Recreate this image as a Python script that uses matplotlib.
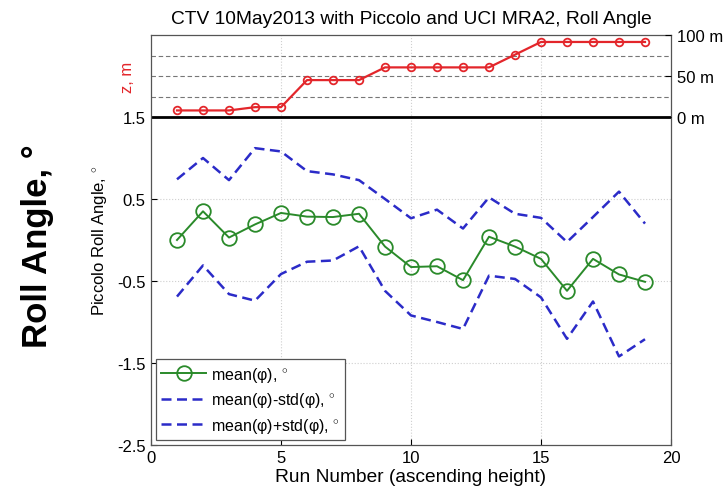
import matplotlib
matplotlib.use("Agg")
import matplotlib.pyplot as plt
import numpy as np

plt.rcParams['font.family'] = ['Liberation Sans', 'DejaVu Sans']
plt.rcParams['mathtext.fontset'] = 'custom'
plt.rcParams['mathtext.rm'] = 'Liberation Sans'

runs = list(range(1, 20))
mean_roll = [0.00, 0.35, 0.03, 0.19, 0.33, 0.285, 0.28, 0.32, -0.08, -0.33,
             -0.32, -0.49, 0.04, -0.08, -0.23, -0.62, -0.23, -0.42, -0.51]
upper_roll = [0.74, 1.00, 0.73, 1.12, 1.08, 0.84, 0.80, 0.73, 0.50, 0.265,
              0.37, 0.14, 0.52, 0.32, 0.27, -0.025, 0.28, 0.59, 0.20]
lower_roll = [-0.69, -0.31, -0.66, -0.74, -0.415, -0.265, -0.25, -0.077, -0.62, -0.92,
              -1.00, -1.085, -0.435, -0.475, -0.70, -1.205, -0.75, -1.42, -1.21]
height_m = [8, 8, 8, 12, 12, 45, 45, 45, 60.5, 60.5,
            60.5, 60.5, 60.5, 76, 91.5, 91.5, 91.5, 91.5, 91.5]

z_base = 1.5        # 0 m line in axis units
z_scale = 0.01      # axis units per metre
z_ref = [25, 50, 75]
z_ticks = [0, 50, 100]
y_ticks = [1.5, 0.5, -0.5, -1.5, -2.5]
x_ticks = [0, 5, 10, 15, 20]

fig = plt.figure(figsize=(7.28, 4.89), dpi=100)
ax = fig.add_axes([151/728, 1-446/489, 520/728, 410/489])

ax.set_xlim(0, 20)
ax.set_ylim(-2.5, 2.5)

# grid
for xv in [5, 10, 15]:
    ax.axvline(xv, color='#cfcfcf', lw=0.8, ls=':', zorder=0)
for yv in [0.5, -0.5, -1.5]:
    ax.axhline(yv, color='#cfcfcf', lw=0.8, ls=':', zorder=0)
for zr in z_ref:
    ax.axhline(z_base + zr*z_scale, color='#777777', lw=0.8, ls=(0, (4, 2.5)), zorder=1)
ax.axhline(z_base, color='black', lw=2.0, zorder=2)

zy = [z_base + h*z_scale for h in height_m]
ax.plot(runs, zy, color='#e3262b', lw=1.6, marker='o', ms=5.5, mfc='none',
        mec='#e3262b', mew=1.3, zorder=4)

l1, = ax.plot(runs, mean_roll, color='#2a8a2a', lw=1.4, marker='o', ms=10.5,
              mfc='none', mec='#2a8a2a', mew=1.3, zorder=4, label=r'mean(φ), $^{\circ}$')
l2, = ax.plot(runs, lower_roll, color='#2b2bc8', lw=1.8, ls=(0, (4, 2.2)), zorder=3,
              label=r'mean(φ)-std(φ), $^{\circ}$')
l3, = ax.plot(runs, upper_roll, color='#2b2bc8', lw=1.8, ls=(0, (4, 2.2)), zorder=3,
              label=r'mean(φ)+std(φ), $^{\circ}$')

ax.set_xticks(x_ticks)
ax.set_xticklabels([str(v) for v in x_ticks])
ax.set_yticks(y_ticks)
ax.set_yticklabels([str(v) for v in y_ticks])
ax.tick_params(direction='in', labelsize=12, length=4, width=0.8, colors='black')
ax.tick_params(axis='y', pad=4)
for s in ax.spines.values():
    s.set_color('#555555')
    s.set_linewidth(0.9)

ax2 = ax.twinx()
ax2.set_ylim(ax.get_ylim())
ax2.set_yticks([z_base + z*z_scale for z in z_ticks])
ax2.set_yticklabels([f'{z} m' for z in z_ticks])
ax2.tick_params(direction='in', labelsize=12, length=4, width=0.8, pad=4)
for s in ax2.spines.values():
    s.set_visible(False)

ax.set_title('CTV 10May2013 with Piccolo and UCI MRA2, Roll Angle', fontsize=13.8, pad=9)
ax.set_xlabel('Run Number (ascending height)', fontsize=13.8, labelpad=2)
ax.set_ylabel(r'Piccolo Roll Angle, $^{\circ}$', fontsize=12, labelpad=14)
ax.yaxis.set_label_coords(-0.078, 0.50)

ax.text(-0.045, z_base + 50*z_scale, 'z, m', color='#e3262b', fontsize=12,
        rotation=90, ha='center', va='center', transform=ax.get_yaxis_transform())

fig.text(38/728, 1-246/489, 'Roll Angle, °', fontsize=25, fontweight='bold',
         rotation=90, ha='center', va='center')

leg = ax.legend(handles=[l1, l2, l3], loc='lower left', fontsize=11.5, handlelength=2.8,
                fancybox=False, framealpha=1, edgecolor='#555555', borderaxespad=0.3,
                handletextpad=0.3, labelspacing=0.4, borderpad=0.35)
leg.get_frame().set_linewidth(0.9)
leg.set_zorder(6)

fig.savefig('out.png', dpi=100)
